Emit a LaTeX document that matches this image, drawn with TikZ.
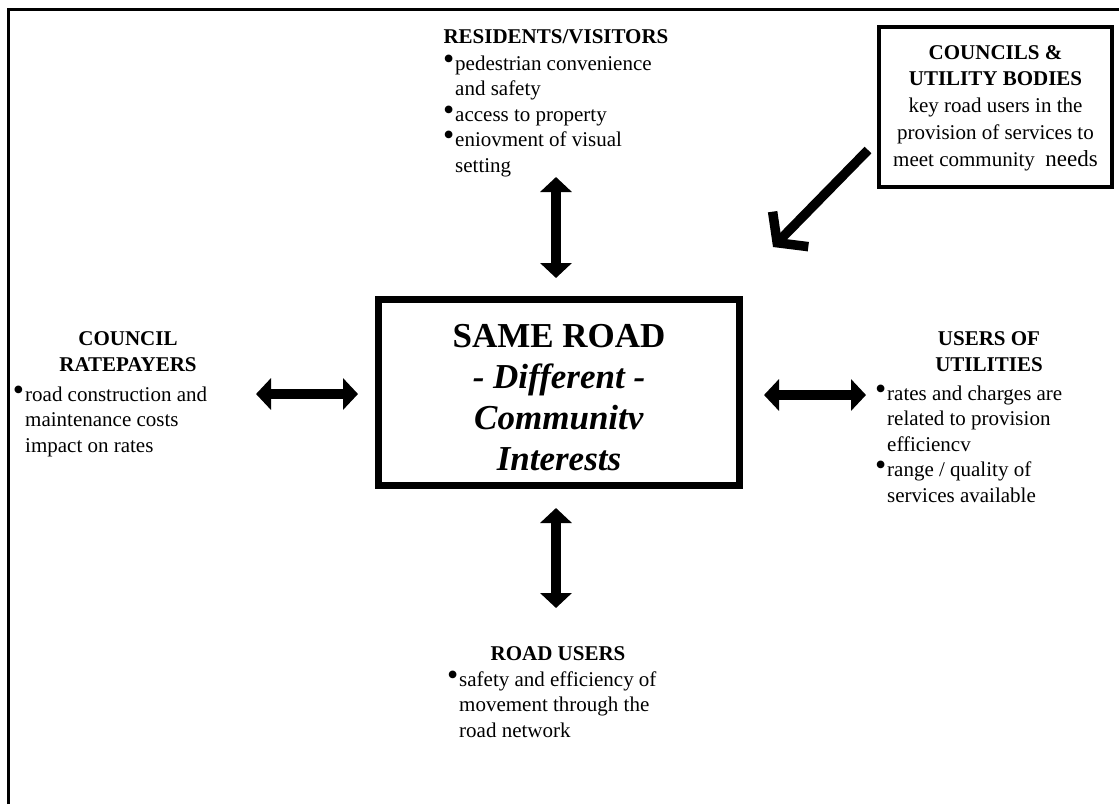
\documentclass[tikz,border=0pt]{standalone}
\usepackage{fontspec}
\setmainfont{Liberation Serif}
\usetikzlibrary{arrows.meta}
\newcommand{\itm}{%
    \llap{\smash{\raisebox{1pt}{\fontsize{32}{32}\selectfont\textbullet}}\hspace{1pt}}\ignorespaces
}
\newcommand{\bodyfont}{%
    \fontsize{21}{25.5}\selectfont
}

\begin{document}
\begin{tikzpicture}[x=1pt, y=-1pt,
    mainbox/.style={draw, line width=7pt, minimum width=361pt, minimum height=186pt, inner sep=0pt},
    maintext/.style={anchor=base, align=center, inner sep=0pt, font=\fontsize{35}{40.7}\selectfont\bfseries},
    utilbox/.style={draw, line width=4pt, minimum width=233pt, minimum height=160pt, inner sep=0pt},
    utiltext/.style={anchor=base, align=center, inner sep=0pt, font=\fontsize{21}{26.7}\selectfont},
    grouphead/.style={anchor=base, align=center, inner sep=0pt, font=\bodyfont\bfseries},
    grouptext/.style={anchor=base west, align=left, inner sep=0pt, font=\bodyfont},
    dblarrow/.style={line width=10pt, {Triangle[length=15pt,width=31pt]}-{Triangle[length=15pt,width=31pt]}},
    diagarrow/.style={line width=9.5pt, -{Straight Barb[length=19pt,width=50pt]}}]
    \useasboundingbox (0,0) rectangle (1119,804);

    % page frame, only top and left edges show
    \draw[line width=3pt] (8.5,804) -- (8.5,9.5) -- (1119,9.5);

    % centre box (texts are placed by their last baseline)
    \node[mainbox] (main) at (559,392.5) {};
    \node[maintext] (title) at (559,470) {SAME ROAD\\ \textit{- Different -}\\ \textit{Communitv}\\ \textit{Interests}};

    % residents / visitors
    \node[grouphead] (reshead) at (556,43) {RESIDENTS/VISITORS};
    \node[grouptext] (reslist) at (455,172) {\itm pedestrian convenience\\ and safety\\ \itm access to property\\ \itm eniovment of visual\\ setting};

    % council ratepayers
    \node[grouphead] (rateshead) at (128,371) {COUNCIL\\ RATEPAYERS};
    \node[grouptext] (rateslist) at (25,452) {\itm road construction and\\ maintenance costs\\ impact on rates};

    % users of utilities
    \node[grouphead] (usershead) at (989,371) {USERS OF\\ UTILITIES};
    \node[grouptext] (userslist) at (887,502) {\itm rates and charges are\\ related to provision\\ efficiencv\\ \itm range / quality of\\ services available};

    % road users
    \node[grouphead] (roadhead) at (558,660) {ROAD USERS};
    \node[grouptext] (roadlist) at (459,737) {\itm safety and efficiency of\\ movement through the\\ road network};

    % councils and utility bodies
    \node[utilbox] (util) at (995.5,107) {};
    \node[utiltext] (utiltxt) at (995.5,166) {\textbf{COUNCILS \&}\\ \textbf{UTILITY BODIES}\\ key road users in the\\ provision of services to\\ meet community\ \ {\fontsize{23}{26.7}\selectfont needs}};

    % arrow ends
    \coordinate (resA) at (556,177);
    \coordinate (resB) at (556,278);
    \coordinate (roadA) at (556,508);
    \coordinate (roadB) at (556,608);
    \coordinate (ratesA) at (256,394);
    \coordinate (ratesB) at (358,394);
    \coordinate (usersA) at (764,395);
    \coordinate (usersB) at (866,395);
    \coordinate (utilA) at (868,150);
    \coordinate (utilB) at (773,247);

    \draw[dblarrow] (resA) -- (resB);
    \draw[dblarrow] (roadA) -- (roadB);
    \draw[dblarrow] (ratesA) -- (ratesB);
    \draw[dblarrow] (usersA) -- (usersB);
    \draw[diagarrow] (utilA) -- (utilB);
\end{tikzpicture}
\end{document}
